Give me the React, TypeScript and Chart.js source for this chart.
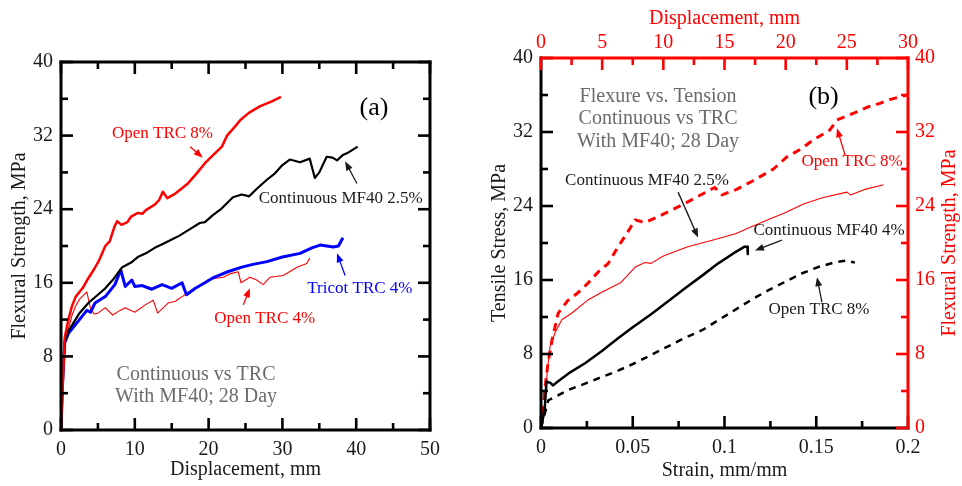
import React, { useEffect, useRef } from "react";
import { Chart, registerables } from "chart.js";

Chart.register(...registerables);

const FONT = "'Liberation Serif', 'Times New Roman', Times, serif";
const RED = "#ff0000";
const BLUE = "#0000ff";
const BLACK = "#000000";
const GRAY = "#6b6b6b";
const TEXT = "#1a1a1a";

// ---------- Panel (a): flexural strength (MPa) vs displacement (mm) ----------
const aDispRange = [0, 50];
const aDispStep = 10;
const aStrRange = [0, 40];
const aStrStep = 8;

const aOpenTRC8: [number, number][] = [
  [0, 0], [0.3, 6], [0.5, 10], [1, 12], [1.5, 13.5], [2, 14.5], [2.5, 15], [3, 15.5],
  [3.7, 16.5], [4.5, 17.5], [5.2, 18.5], [6, 20], [6.6, 20.5], [7.2, 22], [7.6, 22.7],
  [8.2, 22.3], [9, 22.6], [9.5, 23.2], [10.4, 23.6], [11, 23.5], [11.5, 23.9], [12.7, 24.5],
  [13.3, 25], [13.8, 25.9], [14.4, 25.2], [15.5, 25.7], [17.2, 26.8], [18.5, 28], [19.5, 29],
  [20.5, 29.8], [21.8, 30.8], [22.5, 32], [23.6, 33], [24.3, 33.7], [25.5, 34.5], [27, 35.2],
  [28.5, 35.7], [29.8, 36.2],
];
const aContMF40_25: [number, number][] = [
  [0, 0], [0.2, 5], [0.5, 9.5], [1, 10.8], [1.5, 11.4], [2.5, 12.7], [3.7, 13.8], [5, 14.7],
  [6, 15.4], [7, 16.3], [8.3, 17.7], [9.5, 18.2], [10.4, 18.8], [11.5, 19.2], [12.7, 19.8],
  [14, 20.3], [15, 20.7], [16, 21.1], [17.2, 21.7], [18.8, 22.5], [19.5, 22.6], [20.5, 23.3],
  [21.8, 24.1], [23.3, 25.3], [24.5, 25.6], [25.5, 25.4], [26.5, 26.2], [27.9, 27.2], [29, 27.9],
  [30, 28.8], [31, 29.4], [32.4, 29.1], [33.7, 29.5], [34.4, 27.4], [35, 28], [36, 29.7],
  [36.8, 29.6], [37.4, 29.3], [38.2, 29.9], [38.8, 30.1], [40.2, 30.8],
];
const aTricotTRC4: [number, number][] = [
  [0, 0], [0.2, 5], [0.5, 9.5], [1, 10.5], [1.5, 11], [2.8, 12.3], [3.5, 13], [4, 12.8],
  [4.6, 13.8], [6, 14.5], [7.3, 15.8], [8.1, 17.4], [8.7, 15.6], [9.6, 16.3], [10, 15.6],
  [11, 15.7], [12.3, 15.3], [13.7, 15.8], [15, 15.4], [16.4, 16], [17, 14.7], [18.2, 15.4],
  [19.5, 16], [20.5, 16.5], [22.6, 17.2], [24.5, 17.7], [26, 18], [27.9, 18.3], [30, 18.8],
  [32.4, 19.2], [34, 19.8], [35.1, 20.1], [36.9, 19.9], [37.6, 20], [38.2, 20.9],
];
const aOpenTRC4: [number, number][] = [
  [0, 0], [0.2, 5], [0.5, 9], [1, 11], [1.5, 12.5], [2, 13.5], [2.5, 14.2], [3, 14.6],
  [3.5, 15], [4, 13.2], [4.5, 12.6], [5, 12.7], [6, 13.3], [7, 12.5], [8, 13], [8.7, 13.3],
  [10, 12.8], [11.4, 13.6], [12.5, 14.1], [13.1, 12.7], [14.5, 13.8], [15.5, 14], [16.4, 14.5],
  [18.2, 15.4], [19.9, 16.3], [21, 16.5], [22, 16.6], [23, 17], [24, 17.2], [24.4, 16],
  [25.6, 16.6], [26.5, 16.3], [27.4, 15.8], [28.3, 16.6], [30.1, 16.8], [32, 17.7],
  [33.3, 18.1], [33.7, 18.7],
];

// ---------- Panel (b): tension (strain) and flexure (displacement) ----------
const bStrainRange = [0, 0.2];
const bStrainStep = 0.05;
const bDispRange = [0, 30];
const bDispStep = 5;
const bStressRange = [0, 40];
const bStressStep = 8;

// flexure (displacement mm, flexural strength MPa)
const bFlexOpenTRC8: [number, number][] = [
  [0, 0], [0.3, 4], [0.57, 7], [0.9, 9.5], [1.4, 12.4], [2.2, 13.8], [3, 14.6], [3.8, 15.6],
  [4.7, 16.9], [5.5, 17.8], [6.3, 19.6], [7, 21], [7.7, 22.5], [8.5, 22.2], [9.5, 22.8],
  [11.2, 23.9], [12.5, 24.8], [14.2, 26], [14.8, 25.2], [16, 25.8], [17.3, 26.7], [19, 28],
  [20.1, 29.3], [21.3, 30.2], [22.2, 31.1], [23.6, 32.2], [24.2, 33.3], [25.5, 34],
  [26.7, 34.7], [27.7, 35.1], [28.5, 35.5], [29.9, 36],
];
const bFlexContMF40_25: [number, number][] = [
  [0, 0], [0.3, 1.6], [0.5, 6], [0.74, 8.8], [1.15, 10.3], [1.7, 11.7], [2.5, 12.4],
  [3.8, 13.8], [5, 14.7], [6.5, 15.7], [7.7, 17.4], [8.5, 17.9], [9, 17.8], [10, 18.6],
  [12, 19.6], [14, 20.3], [15.9, 21], [17.3, 21.8], [18.7, 22.6], [20, 23.3], [21.4, 24.2],
  [23, 24.9], [25, 25.5], [25.3, 25.2], [26.5, 25.8], [28, 26.3],
];
// tension (strain mm/mm, tensile stress MPa)
const bTenContMF40_4: [number, number][] = [
  [0, 0], [0.002, 2], [0.003, 5], [0.005, 4.9], [0.0065, 4.6], [0.009, 5], [0.011, 5.3],
  [0.015, 5.9], [0.024, 7], [0.033, 8.3], [0.042, 9.7], [0.05, 10.9], [0.06, 12.3],
  [0.07, 13.8], [0.0785, 15.1], [0.088, 16.5], [0.0966, 17.8], [0.105, 18.9], [0.111, 19.6],
  [0.1125, 19.6], [0.1127, 18.8],
];
const bTenOpenTRC8: [number, number][] = [
  [0, 0], [0.002, 1.5], [0.004, 3], [0.008, 3.4], [0.0147, 4.1], [0.024, 4.8], [0.033, 5.5],
  [0.042, 6.2], [0.051, 7], [0.06, 7.9], [0.069, 8.8], [0.078, 9.7], [0.088, 10.6],
  [0.097, 11.7], [0.106, 12.8], [0.115, 13.9], [0.124, 14.9], [0.133, 15.8], [0.142, 16.7],
  [0.151, 17.4], [0.16, 17.9], [0.166, 18.1], [0.171, 17.9],
];

type Note = { text: string; x: number; y: number; color: string; size: number };
type Arrow = { x1: number; y1: number; x2: number; y2: number; color: string };

const aNotes: Note[] = [
  { text: "Open TRC 8%", x: 13.75, y: 32.2, color: RED, size: 17 },
  { text: "Continuous MF40 2.5%", x: 37.9, y: 25.2, color: TEXT, size: 17 },
  { text: "Tricot TRC 4%", x: 40.5, y: 15.4, color: BLUE, size: 17 },
  { text: "Open TRC 4%", x: 27.6, y: 12.1, color: RED, size: 17 },
  { text: "Continuous vs TRC", x: 18.3, y: 6.0, color: GRAY, size: 20 },
  { text: "With MF40; 28 Day", x: 18.3, y: 3.6, color: GRAY, size: 20 },
  { text: "(a)", x: 42.4, y: 35.0, color: BLACK, size: 26 },
];
const aArrows: Arrow[] = [
  { x1: 17.5, y1: 30.8, x2: 19.2, y2: 29.6, color: RED },
  { x1: 40.1, y1: 26.8, x2: 38.5, y2: 29.2, color: TEXT },
  { x1: 38.5, y1: 16.8, x2: 37.4, y2: 19.2, color: BLUE },
  { x1: 24.7, y1: 13.6, x2: 25.6, y2: 15.4, color: RED },
];
const bNotes: Note[] = [
  { text: "Flexure vs. Tension", x: 0.0638, y: 35.8, color: GRAY, size: 20 },
  { text: "Continuous vs TRC", x: 0.0638, y: 33.4, color: GRAY, size: 20 },
  { text: "With MF40; 28 Day", x: 0.0638, y: 31.0, color: GRAY, size: 20 },
  { text: "(b)", x: 0.154, y: 35.8, color: BLACK, size: 26 },
  { text: "Continuous MF40 2.5%", x: 0.0578, y: 26.8, color: TEXT, size: 17 },
  { text: "Continuous MF40 4%", x: 0.157, y: 21.4, color: TEXT, size: 17 },
  { text: "Open TRC 8%", x: 0.1695, y: 28.8, color: RED, size: 17 },
  { text: "Open TRC 8%", x: 0.1515, y: 12.8, color: TEXT, size: 17 },
];
const bArrows: Arrow[] = [
  { x1: 0.0747, y1: 25.5, x2: 0.0856, y2: 20.6, color: TEXT },
  { x1: 0.1313, y1: 20.3, x2: 0.1166, y2: 19.2, color: TEXT },
  { x1: 0.1657, y1: 29.5, x2: 0.1613, y2: 32.4, color: RED },
  { x1: 0.1531, y1: 13.6, x2: 0.1504, y2: 16.3, color: TEXT },
];

type Side = { scale: string; side: "top" | "bottom" | "left" | "right"; color: string };

const toXY = (arr: [number, number][]) => arr.map(([x, y]) => ({ x, y }));
const fmt = (v: any) => String(Math.round(Number(v) * 1000) / 1000);

function framePlugin(sides: Side[]) {
  return {
    id: "frame",
    afterDatasetsDraw(chart: any) {
      const { ctx, chartArea: a } = chart;
      ctx.save();
      for (const s of sides) {
        const sc = chart.scales[s.scale];
        const vals: number[] = sc.ticks.map((t: any) => t.value);
        const minors: number[] = [];
        for (let i = 0; i + 1 < vals.length; i++) minors.push((vals[i] + vals[i + 1]) / 2);
        ctx.strokeStyle = s.color;
        ctx.lineCap = "butt";
        ctx.lineWidth = 2.6;
        const tick = (v: number, len: number) => {
          const p = sc.getPixelForValue(v);
          ctx.beginPath();
          if (s.side === "bottom") { ctx.moveTo(p, a.bottom); ctx.lineTo(p, a.bottom - len); }
          if (s.side === "top") { ctx.moveTo(p, a.top); ctx.lineTo(p, a.top + len); }
          if (s.side === "left") { ctx.moveTo(a.left, p); ctx.lineTo(a.left + len, p); }
          if (s.side === "right") { ctx.moveTo(a.right, p); ctx.lineTo(a.right - len, p); }
          ctx.stroke();
        };
        vals.forEach((v) => tick(v, 12));
        minors.forEach((v) => tick(v, 7));
        ctx.lineWidth = 3;
        ctx.lineCap = "square";
        ctx.beginPath();
        if (s.side === "bottom") { ctx.moveTo(a.left, a.bottom); ctx.lineTo(a.right, a.bottom); }
        if (s.side === "top") { ctx.moveTo(a.left, a.top); ctx.lineTo(a.right, a.top); }
        if (s.side === "left") { ctx.moveTo(a.left, a.top); ctx.lineTo(a.left, a.bottom); }
        if (s.side === "right") { ctx.moveTo(a.right, a.top); ctx.lineTo(a.right, a.bottom); }
        ctx.stroke();
      }
      ctx.restore();
    },
  };
}

function notesPlugin(notes: Note[], arrows: Arrow[], extra?: (chart: any) => void) {
  return {
    id: "notes",
    afterDraw(chart: any) {
      const { ctx } = chart;
      const xs = chart.scales.x;
      const ys = chart.scales.y;
      ctx.save();
      for (const n of notes) {
        ctx.font = `${n.size}px ${FONT}`;
        ctx.fillStyle = n.color;
        ctx.textAlign = "center";
        ctx.textBaseline = "middle";
        ctx.fillText(n.text, xs.getPixelForValue(n.x), ys.getPixelForValue(n.y));
      }
      for (const ar of arrows) {
        const x1 = xs.getPixelForValue(ar.x1), y1 = ys.getPixelForValue(ar.y1);
        const x2 = xs.getPixelForValue(ar.x2), y2 = ys.getPixelForValue(ar.y2);
        const ang = Math.atan2(y2 - y1, x2 - x1);
        const L = 9, W = 3.5;
        ctx.strokeStyle = ar.color;
        ctx.fillStyle = ar.color;
        ctx.lineWidth = 1.3;
        ctx.beginPath();
        ctx.moveTo(x1, y1);
        ctx.lineTo(x2 - Math.cos(ang) * L * 0.8, y2 - Math.sin(ang) * L * 0.8);
        ctx.stroke();
        ctx.beginPath();
        ctx.moveTo(x2, y2);
        ctx.lineTo(x2 - Math.cos(ang) * L - Math.sin(ang) * W, y2 - Math.sin(ang) * L + Math.cos(ang) * W);
        ctx.lineTo(x2 - Math.cos(ang) * L + Math.sin(ang) * W, y2 - Math.sin(ang) * L - Math.cos(ang) * W);
        ctx.closePath();
        ctx.fill();
      }
      if (extra) extra(chart);
      ctx.restore();
    },
  };
}

const tickFont = { family: FONT, size: 20 };
const titleFont = { family: FONT, size: 20 };
const noGrid = { display: false, drawTicks: false };

function buildA(): any {
  return {
    type: "line",
    data: {
      datasets: [
        { data: toXY(aOpenTRC8), borderColor: RED, borderWidth: 2.5 },
        { data: toXY(aContMF40_25), borderColor: BLACK, borderWidth: 2.2 },
        { data: toXY(aTricotTRC4), borderColor: BLUE, borderWidth: 3 },
        { data: toXY(aOpenTRC4), borderColor: RED, borderWidth: 1.1 },
      ],
    },
    options: {
      animation: false,
      responsive: false,
      events: [],
      layout: { padding: { left: 0, right: 51, top: 62, bottom: 0 } },
      elements: { point: { radius: 0 }, line: { tension: 0, borderJoinStyle: "round", fill: false } },
      plugins: { legend: { display: false }, tooltip: { enabled: false } },
      scales: {
        x: {
          type: "linear", position: "bottom", min: aDispRange[0], max: aDispRange[1],
          ticks: { stepSize: aDispStep, font: tickFont, color: TEXT, padding: 8, maxRotation: 0, callback: fmt },
          grid: noGrid, border: { display: false },
          title: { display: true, text: "Displacement, mm", font: titleFont, color: TEXT, padding: { top: 0, bottom: 4 } },
          afterFit: (s: any) => { s.height = 56; },
        },
        y: {
          type: "linear", position: "left", min: aStrRange[0], max: aStrRange[1],
          ticks: { stepSize: aStrStep, font: tickFont, color: TEXT, padding: 8, callback: fmt },
          grid: noGrid, border: { display: false },
          title: { display: true, text: "Flexural Strength, MPa", font: titleFont, color: TEXT, padding: { top: 8, bottom: 0 } },
          afterFit: (s: any) => { s.width = 61; },
        },
      },
    },
    plugins: [
      framePlugin([
        { scale: "x", side: "bottom", color: BLACK },
        { scale: "x", side: "top", color: BLACK },
        { scale: "y", side: "left", color: BLACK },
        { scale: "y", side: "right", color: BLACK },
      ]),
      notesPlugin(aNotes, aArrows),
    ],
  };
}

function buildB(): any {
  return {
    type: "line",
    data: {
      datasets: [
        { data: toXY(bTenContMF40_4), borderColor: BLACK, borderWidth: 2.5, xAxisID: "x", yAxisID: "y" },
        { data: toXY(bTenOpenTRC8), borderColor: BLACK, borderWidth: 2.5, borderDash: [7, 6], xAxisID: "x", yAxisID: "y" },
        { data: toXY(bFlexOpenTRC8), borderColor: RED, borderWidth: 3, borderDash: [8, 6], xAxisID: "x2", yAxisID: "y2" },
        { data: toXY(bFlexContMF40_25), borderColor: RED, borderWidth: 1.1, xAxisID: "x2", yAxisID: "y2" },
      ],
    },
    options: {
      animation: false,
      responsive: false,
      events: [],
      layout: { padding: 0 },
      elements: { point: { radius: 0 }, line: { tension: 0, borderJoinStyle: "round", fill: false } },
      plugins: { legend: { display: false }, tooltip: { enabled: false } },
      scales: {
        x: {
          type: "linear", position: "bottom", min: bStrainRange[0], max: bStrainRange[1],
          ticks: { stepSize: bStrainStep, font: tickFont, color: TEXT, padding: 8, maxRotation: 0, callback: fmt },
          grid: noGrid, border: { display: false },
          title: { display: true, text: "Strain, mm/mm", font: titleFont, color: TEXT, padding: { top: 0, bottom: 3 } },
          afterFit: (s: any) => { s.height = 58; },
        },
        x2: {
          type: "linear", position: "top", min: bDispRange[0], max: bDispRange[1],
          ticks: { stepSize: bDispStep, font: tickFont, color: RED, padding: 3, maxRotation: 0, callback: fmt },
          grid: noGrid, border: { display: false },
          title: { display: true, text: "Displacement, mm", font: titleFont, color: RED, padding: { top: 7, bottom: 0 } },
          afterFit: (s: any) => { s.height = 58; },
        },
        y: {
          type: "linear", position: "left", min: bStressRange[0], max: bStressRange[1],
          ticks: { stepSize: bStressStep, font: tickFont, color: TEXT, padding: 8, callback: fmt },
          grid: noGrid, border: { display: false },
          title: { display: true, text: "Tensile Stress, MPa", font: titleFont, color: TEXT, padding: { top: 7, bottom: 0 } },
          afterFit: (s: any) => { s.width = 60; },
        },
        y2: {
          type: "linear", position: "right", min: bStressRange[0], max: bStressRange[1],
          ticks: { stepSize: bStressStep, font: tickFont, color: RED, padding: 7, callback: fmt },
          grid: noGrid, border: { display: false },
          title: { display: false },
          afterFit: (s: any) => { s.width = 54; },
        },
      },
    },
    plugins: [
      framePlugin([
        { scale: "x", side: "bottom", color: BLACK },
        { scale: "y", side: "left", color: BLACK },
        { scale: "x2", side: "top", color: RED },
        { scale: "y2", side: "right", color: RED },
      ]),
      notesPlugin(bNotes, bArrows, (chart: any) => {
        const { ctx, chartArea: a } = chart;
        ctx.save();
        ctx.translate(a.right + 42, (a.top + a.bottom) / 2);
        ctx.rotate(-Math.PI / 2);
        ctx.font = `20px ${FONT}`;
        ctx.fillStyle = RED;
        ctx.textAlign = "center";
        ctx.textBaseline = "middle";
        ctx.fillText("Flexural Strength, MPa", 0, 0);
        ctx.restore();
      }),
    ],
  };
}

function Panel({ build, left }: { build: () => any; left: number }) {
  const ref = useRef<HTMLCanvasElement>(null);
  useEffect(() => {
    const chart = new Chart(ref.current as HTMLCanvasElement, build());
    return () => chart.destroy();
  }, []);
  return (
    <canvas
      ref={ref}
      width={481}
      height={486}
      style={{ position: "absolute", left, top: 0, width: 481, height: 486 }}
    />
  );
}

export default function App() {
  return (
    <div style={{ position: "absolute", left: 0, top: 0, width: 962, height: 486, background: "#ffffff" }}>
      <Panel build={buildA} left={0} />
      <Panel build={buildB} left={481} />
    </div>
  );
}
